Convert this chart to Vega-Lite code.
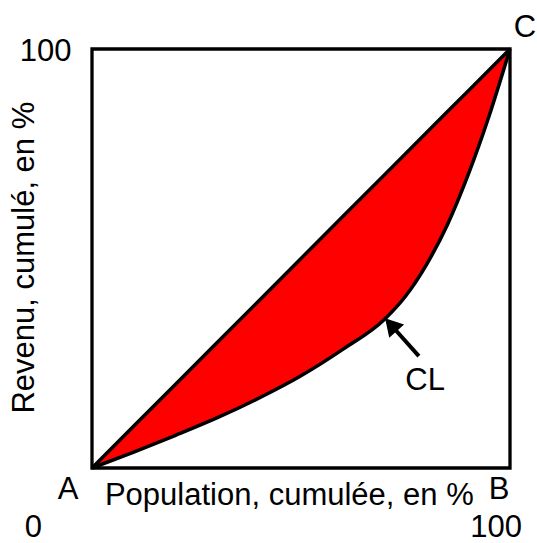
{
  "$schema": "https://vega.github.io/schema/vega-lite/v6.json",
  "width": 418,
  "height": 419,
  "autosize": "none",
  "padding": {"left": 92, "top": 49, "right": 27, "bottom": 75},
  "background": "white",
  "config": {
    "view": {"stroke": "black", "strokeWidth": 3.3},
    "font": "Liberation Sans"
  },
  "datasets": {
    "courbe": [
      {"p": 0, "egalite": 0, "lorenz": 0},
      {"p": 10, "egalite": 10, "lorenz": 3.8},
      {"p": 20, "egalite": 20, "lorenz": 7.8},
      {"p": 30, "egalite": 30, "lorenz": 12},
      {"p": 40, "egalite": 40, "lorenz": 16.7},
      {"p": 50, "egalite": 50, "lorenz": 22},
      {"p": 60, "egalite": 60, "lorenz": 28.3},
      {"p": 70, "egalite": 70, "lorenz": 35.5},
      {"p": 75, "egalite": 75, "lorenz": 41},
      {"p": 80, "egalite": 80, "lorenz": 48.5},
      {"p": 85, "egalite": 85, "lorenz": 58},
      {"p": 90, "egalite": 90, "lorenz": 70},
      {"p": 95, "egalite": 95, "lorenz": 84},
      {"p": 100, "egalite": 100, "lorenz": 100}
    ],
    "etiquettes": [
      {"texte": "100", "x": -11.1, "y": 97.1},
      {"texte": "C", "x": 103.6, "y": 102.9},
      {"texte": "A", "x": -5.7, "y": -7.3},
      {"texte": "B", "x": 97.4, "y": -7.3},
      {"texte": "0", "x": -14.0, "y": -16.5},
      {"texte": "100", "x": 96.7, "y": -16.5},
      {"texte": "CL", "x": 79.7, "y": 18.6},
      {"texte": "Population, cumulée, en %", "x": 47.2, "y": -8.8}
    ],
    "titreY": [
      {"texte": "Revenu, cumulé, en %", "x": -13.9, "y": 50.2}
    ],
    "fleche": [
      {"x": 78.2, "y": 26.7, "x2": 72.3, "y2": 33.3}
    ],
    "pointe": [
      {"x": 71.5, "y": 34.2}
    ]
  },
  "encoding": {
    "x": {"type": "quantitative", "scale": {"domain": [0, 100], "nice": false, "zero": false}, "axis": null},
    "y": {"type": "quantitative", "scale": {"domain": [0, 100], "nice": false, "zero": false}, "axis": null}
  },
  "layer": [
    {
      "data": {"name": "courbe"},
      "mark": {"type": "area", "color": "#FF0000", "interpolate": "monotone", "opacity": 1},
      "encoding": {
        "x": {"field": "p", "type": "quantitative"},
        "y": {"field": "egalite", "type": "quantitative"},
        "y2": {"field": "lorenz"}
      }
    },
    {
      "data": {"name": "courbe"},
      "mark": {"type": "line", "color": "black", "strokeWidth": 3.5, "interpolate": "linear"},
      "encoding": {
        "x": {"field": "p", "type": "quantitative"},
        "y": {"field": "egalite", "type": "quantitative"}
      }
    },
    {
      "data": {"name": "courbe"},
      "mark": {"type": "line", "color": "black", "strokeWidth": 3.5, "interpolate": "monotone"},
      "encoding": {
        "x": {"field": "p", "type": "quantitative"},
        "y": {"field": "lorenz", "type": "quantitative"}
      }
    },
    {
      "data": {"name": "fleche"},
      "mark": {"type": "rule", "color": "black", "strokeWidth": 4},
      "encoding": {
        "x": {"field": "x", "type": "quantitative"},
        "y": {"field": "y", "type": "quantitative"},
        "x2": {"field": "x2"},
        "y2": {"field": "y2"}
      }
    },
    {
      "data": {"name": "pointe"},
      "mark": {"type": "point", "shape": "triangle-up", "filled": true, "color": "black", "opacity": 1, "size": 400, "angle": 318},
      "encoding": {
        "x": {"field": "x", "type": "quantitative"},
        "y": {"field": "y", "type": "quantitative"}
      }
    },
    {
      "data": {"name": "etiquettes"},
      "mark": {"type": "text", "fontSize": 31, "color": "black", "align": "center", "baseline": "alphabetic"},
      "encoding": {
        "x": {"field": "x", "type": "quantitative"},
        "y": {"field": "y", "type": "quantitative"},
        "text": {"field": "texte"}
      }
    },
    {
      "data": {"name": "titreY"},
      "mark": {"type": "text", "fontSize": 31, "color": "black", "align": "center", "baseline": "alphabetic", "angle": 270},
      "encoding": {
        "x": {"field": "x", "type": "quantitative"},
        "y": {"field": "y", "type": "quantitative"},
        "text": {"field": "texte"}
      }
    }
  ]
}
